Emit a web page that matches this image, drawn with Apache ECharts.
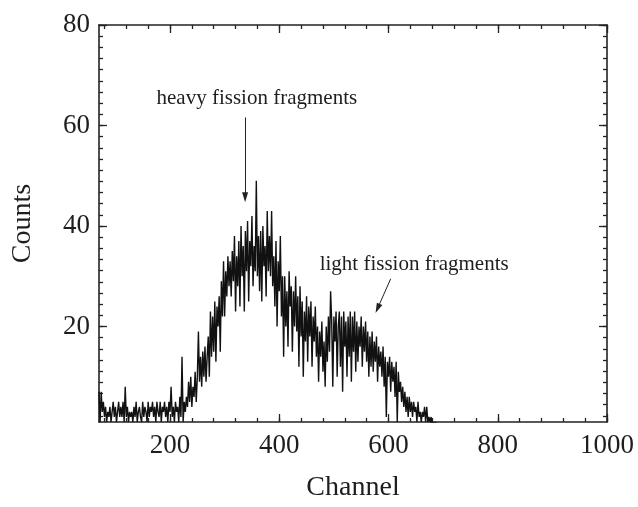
<!DOCTYPE html>
<html>
<head>
<meta charset="utf-8">
<script src="https://cdn.jsdelivr.net/npm/echarts@6/dist/echarts.min.js"></script>
<style>
html,body{margin:0;padding:0;background:#fff;}
#chart{width:638px;height:507px;}
</style>
</head>
<body>
<div id="chart"></div>
<script>
// ---- data ----
const channelStart = 70;
const channelStep = 2;
const counts = [
  7,1,7,3,5,2,4,1,3,2,
  4,1,3,5,2,4,1,3,5,2,
  4,2,5,1,8,2,4,1,3,2,
  3,1,4,2,5,1,3,4,2,1,
  5,2,4,3,1,5,2,4,3,5,
  2,4,1,5,3,2,5,1,4,3,
  5,2,4,1,5,3,8,2,4,1,
  5,3,4,1,6,2,14,1,5,3,
  6,4,9,5,10,4,8,6,11,5,
  10,19,9,14,8,15,10,16,9,14,
  18,10,23,14,22,15,25,13,24,20,
  26,15,29,22,33,22,31,26,34,28,
  33,26,35,29,38,23,34,28,37,24,
  40,30,36,23,39,31,41,25,37,32,
  42,28,36,31,49,30,38,27,39,25,
  40,32,36,26,43,31,38,30,43,28,
  34,24,37,20,33,27,38,22,30,14,
  30,20,27,16,31,24,28,15,27,20,
  30,19,26,12,28,18,25,10,23,17,
  26,13,24,18,25,12,22,17,24,14,
  20,9,19,14,21,11,17,8,20,13,
  22,15,27,21,8,22,17,23,10,20,
  23,12,22,7,23,16,21,10,22,14,
  23,9,22,15,23,11,21,13,20,16,
  22,12,20,15,21,13,19,10,18,12,
  19,11,17,13,18,9,16,12,15,10,
  16,8,14,2,13,10,14,7,13,9,
  12,6,13,1,11,7,9,5,8,4,
  7,3,6,2,6,3,5,2,5,3,
  4,1,5,2,3,1,3,2,4,1,
  4,1,2,1,2,0,1,0,1,0
];
const xTickLabels = [200, 400, 600, 800, 1000];
const yTickLabels = [20, 40, 60, 80];
const xRange = [70, 1000];
const yRange = [1, 80];
const annotations = [
  { text: 'heavy fission fragments', at: [359, 65.3] },
  { text: 'light fission fragments', at: [647, 32.4] }
];
const arrows = [
  { from: [337.5, 61.6], to: [337.5, 45.7] },
  { from: [604, 29.5], to: [580, 23.6] }
];

// ---- build ----
const seriesData = counts.map((c, i) => [channelStart + i * channelStep, c]);
const xMinor = [];
for (let v = 80; v <= 1000; v += 40) xMinor.push(v);
const yMinor = [];
for (let k = 0; k <= 40; k++) { const v = 80 - k * 20 / 9; if (v > yRange[0]) yMinor.push(+v.toFixed(3)); }

const FONT = '"Liberation Serif", "Times New Roman", serif';
const INK = '#1e1e1e';
const lineStyle = { color: '#222', width: 1.6 };
const plain = v => String(v);

function xAx(pos, ticks, len, showLine, showLabel, extra) {
  return Object.assign({
    type: 'value', position: pos, min: xRange[0], max: xRange[1],
    splitLine: { show: false },
    axisLine: { show: showLine, onZero: false, lineStyle },
    axisTick: { show: true, inside: true, length: len, customValues: ticks, lineStyle: { color: '#222', width: 1.3 } },
    axisLabel: { show: showLabel, customValues: xTickLabels, formatter: plain, fontFamily: FONT, fontSize: 27, color: INK, margin: 10 }
  }, extra || {});
}
function yAx(pos, ticks, len, showLine, showLabel, extra) {
  return Object.assign({
    type: 'value', position: pos, min: yRange[0], max: yRange[1],
    splitLine: { show: false },
    axisLine: { show: showLine, onZero: false, lineStyle },
    axisTick: { show: true, inside: true, length: len, customValues: ticks, lineStyle: { color: '#222', width: 1.3 } },
    axisLabel: { show: showLabel, customValues: yTickLabels, formatter: plain, fontFamily: FONT, fontSize: 27, color: INK, margin: 9 }
  }, extra || {});
}

const chart = echarts.init(document.getElementById('chart'), null, { renderer: 'canvas' });
chart.setOption({
  animation: false,
  backgroundColor: '#fff',
  grid: { left: 99, right: 31, top: 25, bottom: 81, containLabel: false },
  xAxis: [
    xAx('bottom', xTickLabels, 8, true, true, {
      name: 'Channel', nameLocation: 'middle', nameGap: 52,
      nameTextStyle: { fontFamily: FONT, fontSize: 28, color: INK }
    }),
    xAx('bottom', xMinor, 4, false, false),
    xAx('top', xTickLabels, 8, true, false),
    xAx('top', xMinor, 4, false, false)
  ],
  yAxis: [
    yAx('left', yTickLabels, 8, true, true, {
      name: 'Counts', nameLocation: 'middle', nameGap: 62,
      nameTextStyle: { fontFamily: FONT, fontSize: 28, color: INK }
    }),
    yAx('left', yMinor, 4, false, false),
    yAx('right', yTickLabels, 8, true, false),
    yAx('right', yMinor, 4, false, false)
  ],
  series: [{
    type: 'line',
    data: seriesData,
    xAxisIndex: 0, yAxisIndex: 0,
    showSymbol: false,
    symbol: 'none',
    lineStyle: { color: '#111', width: 1.4 },
    clip: true,
    silent: true,
    markLine: {
      silent: true,
      symbol: ['none', 'triangle'],
      symbolSize: [6, 10],
      label: { show: false },
      lineStyle: { color: '#222', width: 1, type: 'solid' },
      data: arrows.map(a => [{ coord: a.from }, { coord: a.to }])
    }
  }]
});

const g = annotations.map(a => {
  const p = chart.convertToPixel({ xAxisIndex: 0, yAxisIndex: 0 }, a.at);
  return {
    type: 'text', x: p[0], y: p[1],
    style: { text: a.text, fontFamily: FONT, fontSize: 21, fill: INK, align: 'center', verticalAlign: 'middle' }
  };
});
chart.setOption({ graphic: g });
</script>
</body>
</html>
